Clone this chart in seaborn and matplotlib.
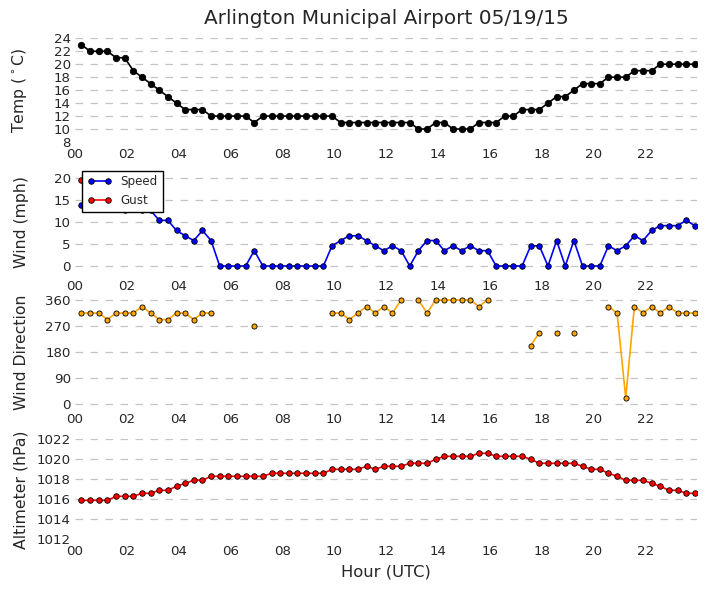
"""
Daily weather summary for Arlington Municipal Airport, 05/19/15
"""

import numpy as np
import pandas as pd
import matplotlib
matplotlib.use("Agg")
from matplotlib import pyplot as plt
import seaborn as sns

N = np.nan

obs_times = [
    "00:15", "00:35", "00:55", "01:15", "01:35", "01:55", "02:15", "02:35", "02:55",
    "03:15", "03:35", "03:55", "04:15", "04:35", "04:55", "05:15", "05:35", "05:55",
    "06:15", "06:35", "06:55", "07:15", "07:35", "07:55", "08:15", "08:35", "08:55",
    "09:15", "09:35", "09:55", "10:15", "10:35", "10:55", "11:15", "11:35", "11:55",
    "12:15", "12:35", "12:55", "13:15", "13:35", "13:55", "14:15", "14:35", "14:55",
    "15:15", "15:35", "15:55", "16:15", "16:35", "16:55", "17:15", "17:35", "17:55",
    "18:15", "18:35", "18:55", "19:15", "19:35", "19:55", "20:15", "20:35", "20:55",
    "21:15", "21:35", "21:55", "22:15", "22:35", "22:55", "23:15", "23:35", "23:55",
]

temp_c = [
    23, 22, 22, 22, 21, 21, 19, 18, 17, 16, 15, 14, 13, 13, 13, 12, 12, 12,
    12, 12, 11, 12, 12, 12, 12, 12, 12, 12, 12, 12, 11, 11, 11, 11, 11, 11,
    11, 11, 11, 10, 10, 11, 11, 10, 10, 10, 11, 11, 11, 12, 12, 13, 13, 13,
    14, 15, 15, 16, 17, 17, 17, 18, 18, 18, 19, 19, 19, 20, 20, 20, 20, 20,
]

wind_mph = [
    13.8, 13.8, 15.0, 13.8, 13.8, 12.7, 13.8, 12.7, 12.7, 10.4, 10.4, 8.1,
    6.9, 5.8, 8.1, 5.8, 0, 0, 0, 0, 3.5, 0, 0, 0,
    0, 0, 0, 0, 0, 4.6, 5.8, 6.9, 6.9, 5.8, 4.6, 3.5,
    4.6, 3.5, 0, 3.5, 5.8, 5.8, 3.5, 4.6, 3.5, 4.6, 3.5, 3.5,
    0, 0, 0, 0, 4.6, 4.6, 0, 5.8, 0, 5.8, 0, 0,
    0, 4.6, 3.5, 4.6, 6.9, 5.8, 8.1, 9.2, 9.2, 9.2, 10.4, 9.2,
]

gust_mph = [
    19.6, N, N, N, N, N, N, N, N, N, N, N,
    N, N, N, N, N, N, N, N, N, N, N, N,
    N, N, N, N, N, N, N, N, N, N, N, N,
    N, N, N, N, N, N, N, N, N, N, N, N,
    N, N, N, N, N, N, N, N, N, N, N, N,
    N, N, N, N, N, N, N, N, N, N, N, N,
]

wind_dir = [
    315, 315, 315, 292.5, 315, 315, 315, 337.5, 315, 292.5, 292.5, 315,
    315, 292.5, 315, 315, N, N, N, N, 270, N, N, N,
    N, N, N, N, N, 315, 315, 292.5, 315, 337.5, 315, 337.5,
    315, 360, N, 360, 315, 360, 360, 360, 360, 360, 337.5, 360,
    N, N, N, N, 202.5, 247.5, N, 247.5, N, 247.5, N, N,
    N, 337.5, 315, 22.5, 337.5, 315, 337.5, 315, 337.5, 315, 315, 315,
]

alt_hpa = [
    1015.9, 1015.9, 1015.9, 1015.9, 1016.3, 1016.3, 1016.3, 1016.6, 1016.6,
    1016.9, 1016.9, 1017.3, 1017.6, 1017.9, 1017.9, 1018.3, 1018.3, 1018.3,
    1018.3, 1018.3, 1018.3, 1018.3, 1018.6, 1018.6, 1018.6, 1018.6, 1018.6,
    1018.6, 1018.6, 1019.0, 1019.0, 1019.0, 1019.0, 1019.3, 1019.0, 1019.3,
    1019.3, 1019.3, 1019.6, 1019.6, 1019.6, 1020.0, 1020.3, 1020.3, 1020.3,
    1020.3, 1020.6, 1020.6, 1020.3, 1020.3, 1020.3, 1020.3, 1020.0, 1019.6,
    1019.6, 1019.6, 1019.6, 1019.6, 1019.3, 1019.0, 1019.0, 1018.6, 1018.3,
    1017.9, 1017.9, 1017.9, 1017.6, 1017.3, 1016.9, 1016.9, 1016.6, 1016.6,
]

hour_ticks = list(range(0, 24, 2))
hour_labels = ["%02d" % h for h in hour_ticks]

hours = [int(t[:2]) + int(t[3:]) / 60 for t in obs_times]
df = pd.DataFrame({
    "hour": hours,
    "temp": temp_c,
    "speed": wind_mph,
    "gust": gust_mph,
    "dir": wind_dir,
    "alt": alt_hpa,
})
# calm reports have no direction: break the line there
df["dir_seg"] = df["dir"].isna().cumsum()

sns.set_style("white")
plt.rcParams["font.family"] = ["DejaVu Sans"]
plt.rcParams["mathtext.fontset"] = "dejavusans"

fig = plt.figure(figsize=(7.05, 5.94), dpi=100)
left, width = 75 / 705, 622 / 705
boxes = [(38.3, 142.0), (169.5, 274.8), (297.1, 407.2), (439.3, 539.3)]
axes = [fig.add_axes([left, 1 - bot / 594, width, (bot - top) / 594])
        for top, bot in boxes]
ax_t, ax_w, ax_d, ax_a = axes

line_kw = dict(linewidth=1.2, markeredgewidth=0.6, markeredgecolor="black")

sns.lineplot(data=df, x="hour", y="temp", ax=ax_t, color="black",
             marker="o", markersize=4.6, **line_kw)
sns.lineplot(data=df, x="hour", y="speed", ax=ax_w, color="blue",
             marker="o", markersize=4.0, label="Speed", **line_kw)
sns.lineplot(data=df, x="hour", y="gust", ax=ax_w, color="red",
             marker="o", markersize=4.0, label="Gust", **line_kw)
sns.lineplot(data=df, x="hour", y="dir", units="dir_seg", estimator=None,
             ax=ax_d, color="orange", marker="o", markersize=3.7, **line_kw)
sns.lineplot(data=df, x="hour", y="alt", ax=ax_a, color="red",
             marker="o", markersize=4.0, **line_kw)

settings = [
    (ax_t, (8, 24), range(8, 25, 2), r"Temp ($^\circ$C)"),
    (ax_w, (-2, 22), range(0, 21, 5), "Wind (mph)"),
    (ax_d, (-10, 370), range(0, 361, 90), "Wind Direction"),
    (ax_a, (1012, 1022), range(1012, 1023, 2), "Altimeter (hPa)"),
]
for ax, ylim, yticks, ylabel in settings:
    ax.set_xlim(0, 24)
    ax.set_xticks(hour_ticks)
    ax.set_xticklabels(hour_labels)
    ax.set_ylim(*ylim)
    ax.set_yticks(list(yticks))
    ax.set_ylabel(ylabel, fontsize=11.3)
    ax.yaxis.set_label_coords(-0.074, 0.5)
    ax.set_xlabel("")
    ax.tick_params(axis="both", length=0, labelsize=9.6)
    ax.tick_params(axis="y", pad=3)
    ax.tick_params(axis="x", pad=4)
    for spine in ax.spines.values():
        spine.set_visible(False)
    ax.grid(False)
    ax.yaxis.grid(True, color="#c4c4c4", linestyle=(0, (6, 6)), linewidth=0.9)
    if ylim[0] == yticks[0]:
        ax.yaxis.get_major_ticks()[0].gridline.set_visible(False)

ax_t.set_title("Arlington Municipal Airport 05/19/15", fontsize=14.4, pad=10)
ax_a.set_xlabel("Hour (UTC)", fontsize=11.8, labelpad=5)

leg = ax_w.legend(loc="upper left", bbox_to_anchor=(0.012, 0.99),
                  borderaxespad=0, fontsize=8.6, numpoints=2,
                  fancybox=False, framealpha=1, edgecolor="black")
leg.get_frame().set_linewidth(1.0)

fig.savefig("out.png", dpi=100)
